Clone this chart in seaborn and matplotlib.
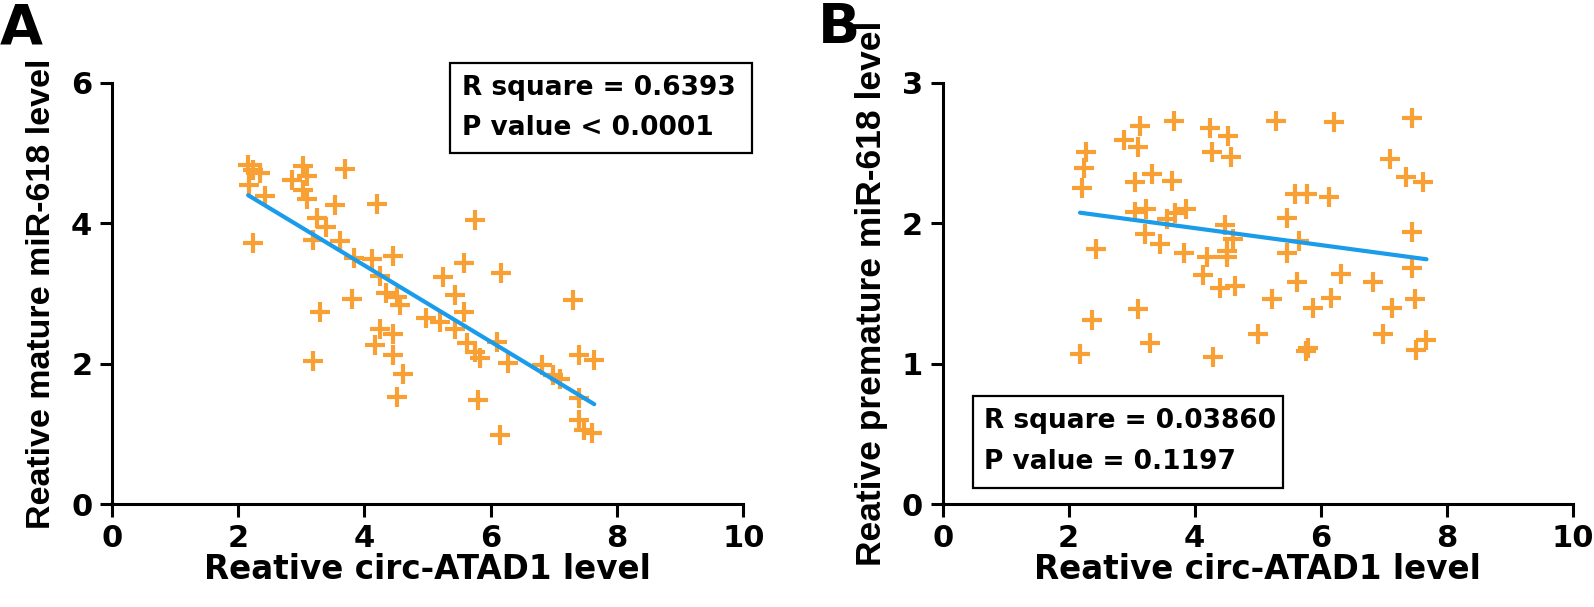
import matplotlib
matplotlib.use("Agg")
import matplotlib.pyplot as plt
from matplotlib.patches import Rectangle
import seaborn as sns
import pandas as pd

sns.set_style("ticks")
plt.rcParams['font.family'] = ['DejaVu Sans']
plt.rcParams['font.weight'] = 'bold'
plt.rcParams.update({'text.color': 'black', 'axes.labelcolor': 'black',
                     'xtick.color': 'black', 'ytick.color': 'black',
                     'axes.edgecolor': 'black'})

# Panel A: circ-ATAD1 vs mature miR-618
circ_a = [2.16, 2.24, 2.35, 2.18, 2.43, 2.24, 3.03, 2.85, 3.09, 3.03, 3.09, 3.69,
          3.54, 4.20, 3.25, 3.40, 3.19, 3.61, 3.83, 4.12, 4.46, 4.25, 4.35, 4.51,
          3.80, 3.30, 4.25, 4.46, 4.17, 4.46, 3.18, 4.51, 5.75, 5.58, 6.17, 5.25,
          5.44, 4.56, 4.98, 5.20, 5.57, 5.44, 5.62, 5.75, 5.83, 6.10, 6.28, 6.81,
          6.99, 7.10, 7.31, 7.40, 7.64, 7.40, 7.40, 7.47, 7.60, 4.61, 5.80, 6.14]
mature = [4.83, 4.76, 4.72, 4.54, 4.39, 3.72, 4.81, 4.62, 4.67, 4.47, 4.34, 4.77,
          4.26, 4.28, 4.07, 3.94, 3.76, 3.74, 3.50, 3.49, 3.53, 3.25, 3.00, 2.95,
          2.92, 2.73, 2.50, 2.42, 2.27, 2.12, 2.04, 1.53, 4.04, 3.44, 3.29, 3.23,
          2.98, 2.84, 2.65, 2.60, 2.73, 2.49, 2.29, 2.17, 2.08, 2.31, 2.01, 1.98,
          1.84, 1.79, 2.91, 2.12, 2.05, 1.51, 1.20, 1.06, 1.02, 1.86, 1.48, 0.98]

# Panel B: circ-ATAD1 vs premature miR-618
circ_b = [2.27, 2.24, 2.21, 3.13, 2.88, 3.10, 3.67, 4.24, 4.53, 4.27, 4.57, 3.06,
          3.33, 3.64, 3.05, 3.22, 3.56, 3.69, 3.87, 2.44, 3.21, 3.45, 3.83, 4.19,
          4.14, 4.40, 4.51, 4.51, 4.48, 4.61, 4.64, 3.10, 2.37, 3.29, 2.18, 4.29,
          5.29, 6.21, 5.59, 5.79, 6.14, 5.47, 5.66, 5.47, 5.62, 6.32, 6.83, 5.23,
          5.88, 6.17, 5.01, 5.80, 5.77, 7.45, 7.10, 7.35, 7.63, 7.45, 7.45, 7.49,
          7.14, 6.99, 7.68, 7.52]
premature = [2.51, 2.39, 2.25, 2.69, 2.59, 2.54, 2.73, 2.68, 2.62, 2.51, 2.47, 2.29,
             2.35, 2.30, 2.08, 2.10, 2.03, 2.07, 2.10, 1.82, 1.92, 1.85, 1.79, 1.76,
             1.63, 1.54, 1.76, 1.80, 1.99, 1.89, 1.55, 1.39, 1.31, 1.15, 1.07, 1.05,
             2.73, 2.72, 2.21, 2.21, 2.19, 2.04, 1.87, 1.79, 1.58, 1.64, 1.58, 1.46,
             1.40, 1.47, 1.21, 1.11, 1.09, 2.75, 2.46, 2.33, 2.29, 1.94, 1.68, 1.46,
             1.40, 1.21, 1.17, 1.10]

df_a = pd.DataFrame({'circ': circ_a, 'mir': mature})
df_b = pd.DataFrame({'circ': circ_b, 'mir': premature})

orange = '#F8A033'
blue = '#1A9CEB'

fig = plt.figure(figsize=(15.94, 6.07), dpi=100)
ax_a = fig.add_axes([0.0701, 0.1692, 0.3962, 0.6946])
ax_b = fig.add_axes([0.5914, 0.1692, 0.3952, 0.6946])

panels = [
    (ax_a, df_a, 6, [0, 2, 4, 6], "Reative mature miR-618 level", 24.5,
     ["R square = 0.6393", "P value < 0.0001"], (0.536, 0.834, 0.478, 0.213)),
    (ax_b, df_b, 3, [0, 1, 2, 3], "Reative premature miR-618 level", 25.5,
     ["R square = 0.03860", "P value = 0.1197"], (0.048, 0.039, 0.492, 0.219)),
]

for ax, df, ymax, yticks, ylab, ysize, stats, box in panels:
    sns.regplot(data=df, x='circ', y='mir', ax=ax, ci=None, marker='+',
                scatter_kws={'color': orange, 's': 190, 'linewidths': 3.0, 'alpha': 1},
                line_kws={'color': blue, 'lw': 3})
    ax.set_xlim(0, 10)
    ax.set_ylim(0, ymax)
    ax.set_xticks([0, 2, 4, 6, 8, 10])
    ax.set_yticks(yticks)
    ax.set_xlabel("Reative circ-ATAD1 level", fontsize=23.5, fontweight='bold', labelpad=0)
    ax.set_ylabel(ylab, fontsize=ysize, fontweight='bold', labelpad=10,
                  family=['Liberation Sans', 'DejaVu Sans'])
    for lbl in ax.get_xticklabels() + ax.get_yticklabels():
        lbl.set_fontweight('bold')
    ax.tick_params(labelsize=22, width=2.2, length=9, pad=5)
    sns.despine(ax=ax)
    for s in ['left', 'bottom']:
        ax.spines[s].set_linewidth(2.2)

    bx, by, bw, bh = box
    ax.add_patch(Rectangle((bx, by), bw, bh, transform=ax.transAxes, fill=False,
                           lw=1.6, edgecolor='black', clip_on=False))
    ax.text(bx + 0.018, by + bh * 0.72, stats[0], transform=ax.transAxes,
            fontsize=19, fontweight='bold', va='center', ha='left')
    ax.text(bx + 0.018, by + bh * 0.28, stats[1], transform=ax.transAxes,
            fontsize=19, fontweight='bold', va='center', ha='left')

fig.text(0.0, 0.998, "A", fontsize=40, fontweight='bold', va='top', ha='left')
fig.text(0.513, 0.998, "B", fontsize=40, fontweight='bold', va='top', ha='left')

fig.savefig("out.png", dpi=100)
